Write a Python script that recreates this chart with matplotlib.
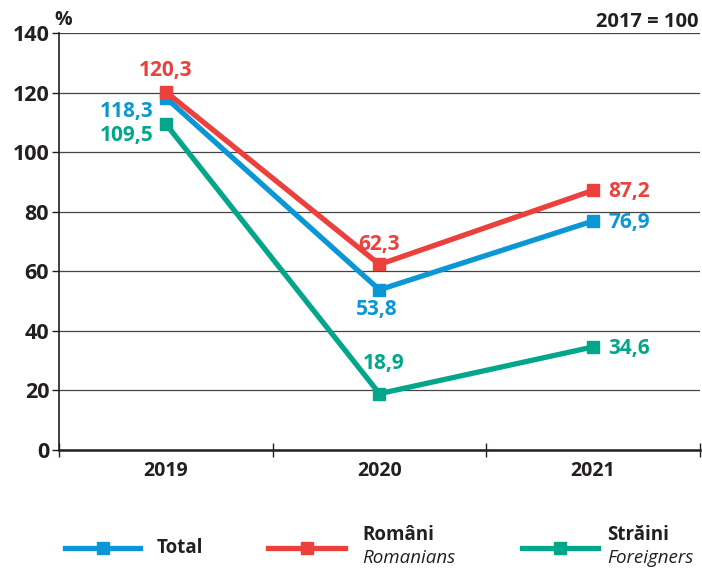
import matplotlib.pyplot as plt
from matplotlib.lines import Line2D

plt.rcParams["font.family"] = ["Open Sans", "DejaVu Sans"]

# Data
years = ["2019", "2020", "2021"]
total = [118.3, 53.8, 76.9]
romani = [120.3, 62.3, 87.2]
straini = [109.5, 18.9, 34.6]

C_TOTAL = "#0b97d5"
C_ROM = "#ec403d"
C_STR = "#03a68a"
C_TXT = "#231f20"

fig = plt.figure(figsize=(7.02, 5.71), dpi=100)
ax = fig.add_axes([0.084, 0.212, 0.913, 0.730])

x = list(range(len(years)))
for vals, col in [(straini, C_STR), (total, C_TOTAL), (romani, C_ROM)]:
    ax.plot(x, vals, color=col, lw=3.8, marker="s", ms=8,
            solid_joinstyle="miter", zorder=3)

ax.set_xlim(-0.5, 2.5)
ax.set_ylim(0, 140)
ax.set_yticks(range(0, 141, 20))
ax.set_yticklabels([str(v) for v in range(0, 141, 20)],
                   fontsize=15.5, fontweight="bold", color=C_TXT)
ax.set_xticks(x)
ax.set_xticklabels(years, fontsize=14, fontweight="bold", color=C_TXT)
ax.set_xticks([-0.5, 0.5, 1.5, 2.5], minor=True)
ax.tick_params(axis="x", which="major", length=0, pad=8)
ax.tick_params(axis="x", which="minor", direction="inout", length=10,
               width=1, color=C_TXT)
ax.tick_params(axis="y", direction="out", length=5, width=1,
               color=C_TXT, pad=2)

ax.grid(axis="y", color="#444444", lw=0.9)
ax.set_axisbelow(True)
for s in ["top", "right"]:
    ax.spines[s].set_visible(False)
ax.spines["left"].set_color(C_TXT)
ax.spines["bottom"].set_color(C_TXT)
ax.spines["left"].set_linewidth(1.2)
ax.spines["bottom"].set_linewidth(1.8)

# Value labels
lab_kw = dict(fontsize=15, fontweight="bold")
def fmt(v):
    return f"{v:.1f}".replace(".", ",")

ax.annotate(fmt(romani[0]), (0, romani[0]), xytext=(0, 8),
            textcoords="offset points", ha="center", va="bottom",
            color=C_ROM, **lab_kw)
ax.annotate(fmt(total[0]), (0, total[0]), xytext=(-9, -2),
            textcoords="offset points", ha="right", va="top",
            color=C_TOTAL, **lab_kw)
ax.annotate(fmt(straini[0]), (0, straini[0]), xytext=(-9, -1),
            textcoords="offset points", ha="right", va="top",
            color=C_STR, **lab_kw)
ax.annotate(fmt(romani[1]), (1, romani[1]), xytext=(0, 7),
            textcoords="offset points", ha="center", va="bottom",
            color=C_ROM, **lab_kw)
ax.annotate(fmt(total[1]), (1, total[1]), xytext=(-2, -7),
            textcoords="offset points", ha="center", va="top",
            color=C_TOTAL, **lab_kw)
ax.annotate(fmt(straini[1]), (1, straini[1]), xytext=(3, 14),
            textcoords="offset points", ha="center", va="bottom",
            color=C_STR, **lab_kw)
for vals, col in [(romani, C_ROM), (total, C_TOTAL), (straini, C_STR)]:
    ax.annotate(fmt(vals[2]), (2, vals[2]), xytext=(11, -1),
                textcoords="offset points", ha="left", va="center",
                color=col, **lab_kw)

fig.text(0.078, 0.965, "%", fontsize=14, fontweight="bold",
         color=C_TXT, ha="left", va="center")
fig.text(0.995, 0.962, "2017 = 100", fontsize=14.5, fontweight="bold",
         color=C_TXT, ha="right", va="center")

# Legend
leg_y = 1 - 548 / 571
items = [
    (65, 140, C_TOTAL, 157, "Total", None),
    (268, 345, C_ROM, 362, "Români", "Romanians"),
    (522, 598, C_STR, 607, "Străini", "Foreigners"),
]
for x0, x1, col, tx, bold, ital in items:
    fig.add_artist(Line2D([x0 / 702, x1 / 702], [leg_y, leg_y], color=col,
                          lw=3.8, transform=fig.transFigure))
    fig.add_artist(Line2D([(x0 + x1) / 2 / 702], [leg_y], color=col,
                          marker="s", ms=8, transform=fig.transFigure))
    if ital is None:
        fig.text(tx / 702, leg_y, bold, fontsize=13.5, fontweight="bold",
                 color=C_TXT, ha="left", va="center")
    else:
        fig.text(tx / 702, 1 - 535 / 571, bold, fontsize=13.5,
                 fontweight="bold", color=C_TXT, ha="left", va="center")
        fig.text(tx / 702, 1 - 558 / 571, ital, fontsize=13.5,
                 style="italic", color=C_TXT, ha="left", va="center")

fig.savefig("out.png", dpi=100)
